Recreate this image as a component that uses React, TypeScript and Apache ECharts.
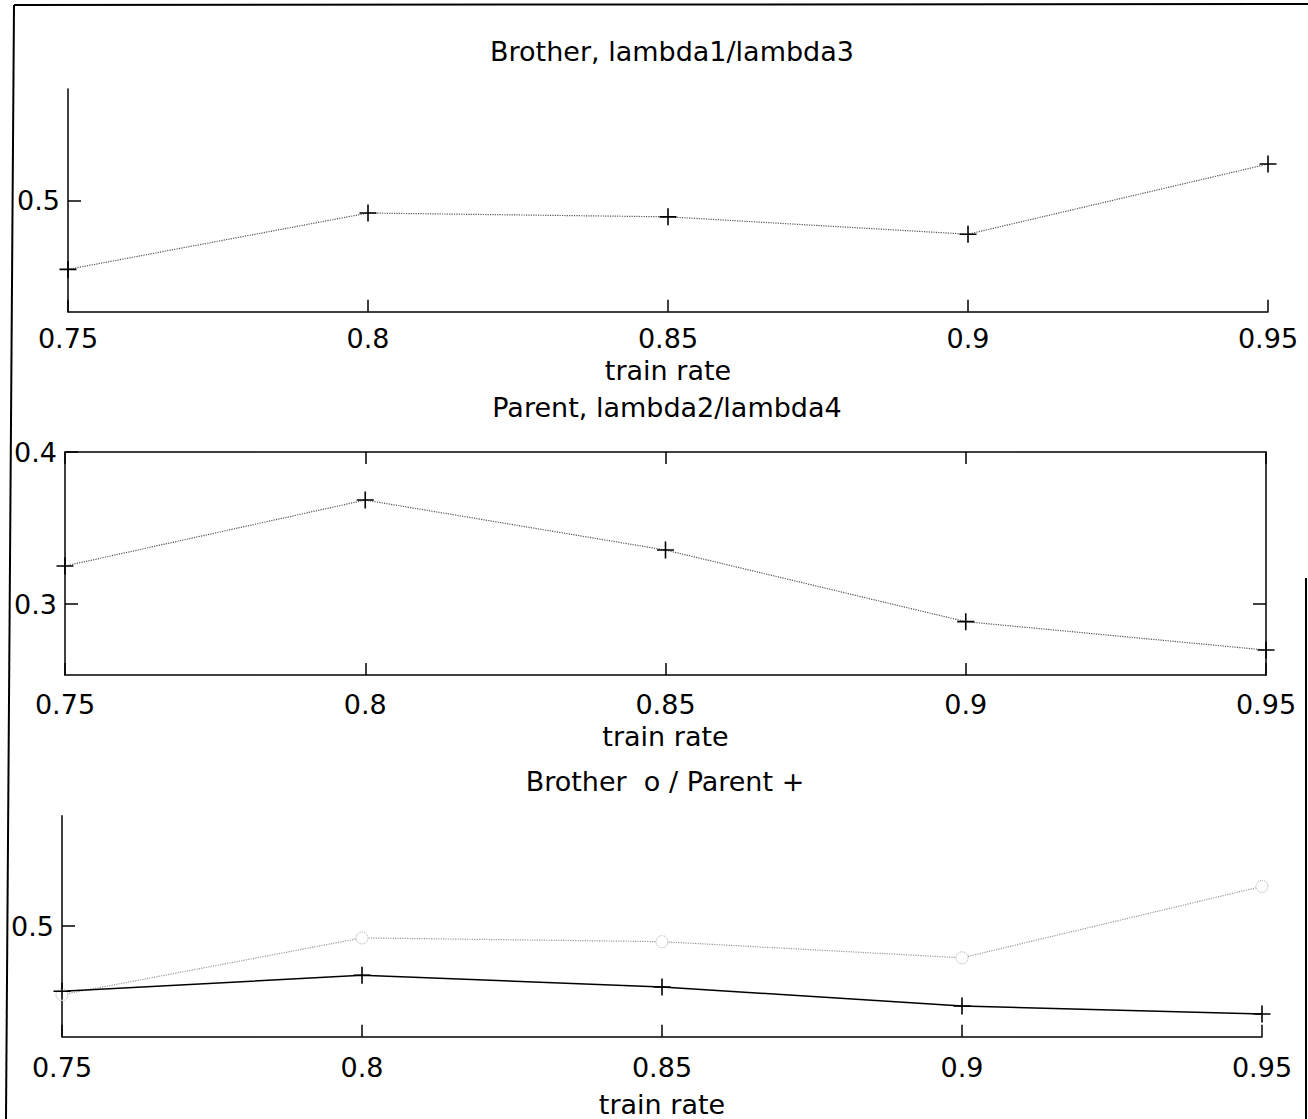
import React, { useEffect, useRef } from "react";
import * as echarts from "echarts";

// ---- data ----
const trainRates = [0.75, 0.8, 0.85, 0.9, 0.95];
const brotherRatio = [0.469, 0.4943, 0.4926, 0.4848, 0.5163];
const parentRatio = [0.325, 0.3684, 0.3355, 0.2884, 0.2697];
const brotherCombined = [0.469, 0.4947, 0.493, 0.4857, 0.518];
const parentCombined = [0.4706, 0.4778, 0.4725, 0.4639, 0.4603];
const titles = ["Brother, lambda1/lambda3", "Parent, lambda2/lambda4", "Brother  o / Parent +"];
const xAxisLabel = "train rate";
const yTicksTop = [0.5];
const yTicksMiddle = [0.3, 0.4];
const yTicksBottom = [0.5];

const FONT = "DejaVu Sans";
const FS = 27;
const PLUS = "path://M7.25,0h1.5v7.25h7.25v1.5h-7.25v7.25h-1.5v-7.25h-7.25v-1.5h7.25z";

const fmt = (v: number) => String(Math.round(v * 100) / 100);
const lineStyle = { color: "#000", width: 1.5 };

function pairs(ys: number[]) {
  return trainRates.map((x, i) => [x, ys[i]]);
}

function bottomX(gridIndex: number, margin: number, nameGap: number, nameLineHeight?: number) {
  return {
    type: "value",
    gridIndex,
    position: "bottom",
    min: 0.75,
    max: 0.95,
    interval: 0.05,
    axisLine: { show: true, onZero: false, lineStyle },
    axisTick: { show: true, inside: true, length: 12, lineStyle },
    axisLabel: { show: true, margin, fontFamily: FONT, fontSize: FS, color: "#000", formatter: fmt },
    splitLine: { show: false },
    name: xAxisLabel,
    nameLocation: "middle",
    nameGap,
    nameTextStyle: {
      fontFamily: FONT,
      fontSize: FS,
      color: "#000",
      ...(nameLineHeight ? { lineHeight: nameLineHeight } : {}),
    },
  };
}

function leftY(gridIndex: number, min: number, max: number, ticks: number[]) {
  return {
    type: "value",
    gridIndex,
    position: "left",
    min,
    max,
    interval: 0.05,
    axisLine: { show: true, onZero: false, lineStyle },
    axisTick: { show: true, inside: true, length: 13, lineStyle, customValues: ticks },
    axisLabel: {
      show: true,
      margin: 8,
      fontFamily: FONT,
      fontSize: FS,
      color: "#000",
      customValues: ticks,
      formatter: (v: number) => (ticks.some((t) => Math.abs(t - v) < 1e-6) ? fmt(v) : ""),
    },
    splitLine: { show: false },
  };
}

export default function App() {
  const ref = useRef<HTMLDivElement>(null);
  useEffect(() => {
    if (!ref.current) return;
    const chart = echarts.init(ref.current, undefined, { renderer: "svg" });
    const titleBase = {
      textAlign: "center",
      padding: 0,
      textStyle: { fontFamily: FONT, fontSize: FS, fontWeight: "normal", color: "#000" },
    };
    chart.setOption({
      animation: false,
      backgroundColor: "#fff",
      title: [
        { ...titleBase, text: titles[0], left: 672, top: 38 },
        { ...titleBase, text: titles[1], left: 667, top: 394 },
        { ...titleBase, text: titles[2], left: 665, top: 768 },
      ],
      grid: [
        { left: 68, top: 89, width: 1200, height: 222.7, outerBoundsMode: "none", containLabel: false },
        { left: 65, top: 452, width: 1201, height: 223, outerBoundsMode: "none", containLabel: false },
        { left: 62, top: 815.7, width: 1200, height: 221, outerBoundsMode: "none", containLabel: false },
      ],
      xAxis: [
        bottomX(0, 13, 45),
        bottomX(1, 16, 48),
        bottomX(2, 17, 57, 21),
        {
          type: "value",
          gridIndex: 1,
          position: "top",
          min: 0.75,
          max: 0.95,
          interval: 0.05,
          axisLine: { show: true, onZero: false, lineStyle },
          axisTick: { show: true, inside: true, length: 12, lineStyle },
          axisLabel: { show: false },
          splitLine: { show: false },
        },
      ],
      yAxis: [
        leftY(0, 0.45, 0.55, yTicksTop),
        leftY(1, 0.2533, 0.4, yTicksMiddle),
        leftY(2, 0.45, 0.55, yTicksBottom),
        {
          type: "value",
          gridIndex: 1,
          position: "right",
          min: 0.2533,
          max: 0.4,
          axisLine: { show: true, onZero: false, lineStyle },
          axisTick: { show: true, inside: true, length: 13, lineStyle, customValues: [0.3] },
          axisLabel: { show: false },
          splitLine: { show: false },
        },
      ],
      series: [
        {
          type: "line",
          xAxisIndex: 0,
          yAxisIndex: 0,
          data: pairs(brotherRatio),
          clip: false,
          symbol: PLUS,
          symbolSize: 17,
          itemStyle: { color: "#000" },
          lineStyle: { color: "#555", width: 1.2, type: "dotted" },
        },
        {
          type: "line",
          xAxisIndex: 1,
          yAxisIndex: 1,
          data: pairs(parentRatio),
          clip: false,
          symbol: PLUS,
          symbolSize: 17,
          itemStyle: { color: "#000" },
          lineStyle: { color: "#555", width: 1.2, type: "dotted" },
        },
        {
          type: "line",
          xAxisIndex: 2,
          yAxisIndex: 2,
          data: pairs(brotherCombined),
          clip: false,
          symbol: "circle",
          symbolSize: 12,
          itemStyle: { color: "#fff", borderColor: "#aaa", borderWidth: 1, borderType: "dotted" },
          lineStyle: { color: "#999", width: 1.2, type: "dotted" },
        },
        {
          type: "line",
          xAxisIndex: 2,
          yAxisIndex: 2,
          data: pairs(parentCombined),
          clip: false,
          symbol: PLUS,
          symbolSize: 17,
          itemStyle: { color: "#000" },
          lineStyle: { color: "#000", width: 1.5, type: "solid" },
        },
      ],
      graphic: [
        { type: "line", shape: { x1: 14, y1: 5, x2: 6, y2: 1119 }, style: { stroke: "#000", lineWidth: 2 } },
        { type: "line", shape: { x1: 14, y1: 5, x2: 1308, y2: 4 }, style: { stroke: "#000", lineWidth: 2 } },
        { type: "line", shape: { x1: 1306, y1: 578, x2: 1306, y2: 1119 }, style: { stroke: "#000", lineWidth: 2 } },
      ],
    });
    return () => chart.dispose();
  }, []);
  return (
    <div
      ref={ref}
      style={{ position: "fixed", left: 0, top: 0, width: 1308, height: 1119, background: "#fff" }}
    />
  );
}
